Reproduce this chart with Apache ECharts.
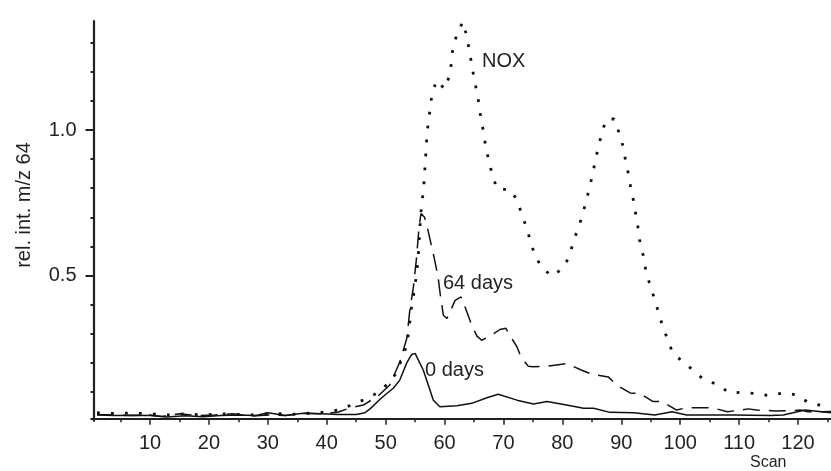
<!DOCTYPE html>
<html><head><meta charset="utf-8">
<script src="https://cdn.jsdelivr.net/npm/echarts@6/dist/echarts.min.js"></script>
<style>html,body{margin:0;padding:0;background:#fff}#c{width:831px;height:471px}</style>
</head><body><div id="c"></div>
<script>
// [scan, relative intensity]
const noxData = [[1,0.028],[4,0.025],[7,0.027],[10,0.024],[13,0.02],[16,0.024],[19,0.02],[22,0.024],[25,0.022],[28,0.02],[31,0.026],[34,0.022],[37,0.026],[40,0.03],[42,0.038],[44.2,0.054],[46.5,0.074],[48.6,0.096],[50.6,0.131],[51.9,0.166],[52.6,0.206],[53.6,0.26],[53.9,0.306],[54.4,0.392],[55,0.466],[55.5,0.552],[55.9,0.693],[56.1,0.742],[56.4,0.79],[56.6,0.84],[56.7,0.887],[56.9,0.937],[57.0,0.986],[57.3,1.034],[57.6,1.082],[57.9,1.13],[58.7,1.171],[60.0,1.141],[60.8,1.185],[61.2,1.234],[61.4,1.282],[62.1,1.329],[63.1,1.372],[63.8,1.321],[64.2,1.274],[64.6,1.227],[65.0,1.179],[65.5,1.13],[65.9,1.082],[66.2,1.034],[66.7,0.986],[67.0,0.937],[67.6,0.889],[68.1,0.843],[69.0,0.796],[71.1,0.796],[72.4,0.757],[73.1,0.709],[74.0,0.661],[74.6,0.615],[75.3,0.572],[76.5,0.526],[78.3,0.497],[80.2,0.527],[81.3,0.572],[81.9,0.621],[82.7,0.661],[83.4,0.709],[84.1,0.758],[84.6,0.804],[85.2,0.851],[85.6,0.899],[86.2,0.947],[86.7,0.992],[87.5,1.038],[88.8,1.038],[89.6,0.992],[90.3,0.944],[90.7,0.898],[91.2,0.85],[91.6,0.802],[92.1,0.755],[92.5,0.706],[92.9,0.657],[93.2,0.609],[93.8,0.563],[94.2,0.512],[94.9,0.466],[95.6,0.421],[96.3,0.375],[97.0,0.326],[98.7,0.235],[100.4,0.203],[102.2,0.174],[104.1,0.14],[106.4,0.125],[108.3,0.096],[110.5,0.098],[112.8,0.094],[115.1,0.086],[117.5,0.096],[119.8,0.089],[121.8,0.062],[124.2,0.052],[125.6,0.048]];
const days64Data = [[1,0.022],[4,0.02],[7,0.018],[10,0.02],[12,0.015],[15,0.024],[18,0.018],[21,0.02],[24,0.024],[27,0.016],[30,0.02],[33,0.018],[36,0.026],[39,0.024],[42,0.03],[44,0.045],[46.2,0.054],[48.7,0.085],[50.7,0.123],[52.4,0.202],[53.6,0.284],[54.1,0.38],[54.7,0.459],[55.2,0.552],[55.7,0.672],[56.0,0.713],[56.6,0.70],[57.2,0.654],[57.8,0.6],[58.4,0.545],[58.9,0.494],[59.3,0.43],[59.8,0.363],[60.4,0.352],[61.8,0.414],[62.8,0.426],[63.8,0.374],[64.6,0.329],[65.5,0.291],[66.3,0.277],[67.7,0.291],[69.4,0.314],[70.4,0.318],[71.6,0.277],[72.3,0.254],[73.0,0.219],[74.2,0.188],[75.0,0.186],[77.6,0.188],[79.0,0.192],[80.7,0.197],[83.3,0.174],[85.0,0.16],[87.8,0.151],[89.2,0.123],[91.5,0.096],[93.2,0.094],[95.4,0.066],[96.9,0.066],[99.4,0.037],[101.1,0.045],[104.2,0.045],[105.6,0.044],[108,0.031],[110.2,0.037],[111.5,0.041],[113,0.037],[116.1,0.034],[119.2,0.035],[120.4,0.037],[121.7,0.031],[125.6,0.032]];
const days0Data = [[1,0.02],[4,0.018],[7,0.019],[10,0.018],[12.8,0.013],[16,0.017],[19,0.014],[22,0.018],[25,0.02],[28,0.018],[30,0.028],[33,0.018],[36,0.026],[39,0.024],[42,0.022],[45,0.022],[46.5,0.028],[47.4,0.042],[49.1,0.075],[50.2,0.094],[51.3,0.112],[52.4,0.14],[53.6,0.2],[54.4,0.228],[55.0,0.232],[56.4,0.174],[58.1,0.071],[59.2,0.048],[62.1,0.052],[64.6,0.06],[67.2,0.079],[69.1,0.091],[72.3,0.071],[75.1,0.058],[77.4,0.066],[80.7,0.054],[83.6,0.043],[85.3,0.043],[88.1,0.029],[92.1,0.028],[95.7,0.02],[98.6,0.031],[101.1,0.02],[109,0.02],[115.3,0.018],[117.5,0.02],[121.2,0.037],[125.6,0.028]];
const xMajorTicks = [10,20,30,40,50,60,70,80,90,100,110,120];
const xMinorTicks = [5,15,25,35,45,55,65,75,85,95,105,115,125];
const yMajorTicks = [0.5,1.0];
const yMinorTicks = [0.1,0.2,0.3,0.4,0.6,0.7,0.8,0.9,1.1,1.2,1.3];
const seriesNames = ['NOX','64 days','0 days'];
const xTitle = 'Scan';
const yTitle = 'rel. int. m/z 64';

const INK = '#231f20';
const FONT = '"Liberation Sans", Arial, sans-serif';
const chart = echarts.init(document.getElementById('c'), null, {renderer:'canvas'});
const xBase = {type:'value', min:0, max:125.6, position:'bottom', offset:-2, splitLine:{show:false}};
const yBase = {type:'value', min:0, max:1.375, position:'left', offset:-2.4, splitLine:{show:false}};
chart.setOption({
  animation:false,
  backgroundColor:'#fff',
  grid:{left:91.1, right:0, top:21, bottom:50.2, outerBoundsMode:'none', containLabel:false},
  xAxis:[
    Object.assign({}, xBase, {
      axisLine:{show:true, onZero:false, lineStyle:{color:INK, width:2}},
      axisTick:{show:true, customValues:xMajorTicks, length:6, lineStyle:{color:INK, width:1.5}},
      axisLabel:{show:true, customValues:xMajorTicks, margin:15, fontSize:20, color:INK, fontFamily:FONT}
    }),
    Object.assign({}, xBase, {
      axisLine:{show:false, onZero:false},
      axisTick:{show:true, customValues:xMinorTicks, length:3.5, lineStyle:{color:INK, width:1.5}},
      axisLabel:{show:false}
    })
  ],
  yAxis:[
    Object.assign({}, yBase, {
      axisLine:{show:true, onZero:false, lineStyle:{color:INK, width:2.2}},
      axisTick:{show:true, customValues:yMajorTicks, length:8, lineStyle:{color:INK, width:2}},
      axisLabel:{show:true, customValues:yMajorTicks, margin:17, fontSize:20, color:INK, fontFamily:FONT,
        formatter:v => Number(v).toFixed(1)}
    }),
    Object.assign({}, yBase, {
      axisLine:{show:false, onZero:false},
      axisTick:{show:true, customValues:yMinorTicks, length:3, lineStyle:{color:INK, width:2}},
      axisLabel:{show:false}
    })
  ],
  series:[
    {name:seriesNames[2], type:'line', data:days0Data, symbol:'none', lineStyle:{color:'#111', width:1.5}},
    {name:seriesNames[1], type:'line', data:days64Data, symbol:'none', lineStyle:{color:'#111', width:1.5, type:[17,9]}},
    {name:seriesNames[0], type:'line', data:noxData, symbol:'none', lineStyle:{color:'#111', width:2.8, type:[2.8,11.2], cap:'butt'}}
  ],
  graphic:[
    {type:'text', x:482, y:61, style:{text:seriesNames[0], fontSize:20, fontFamily:FONT, fill:INK, textVerticalAlign:'middle', verticalAlign:'middle'}},
    {type:'text', x:443, y:283, style:{text:seriesNames[1], fontSize:20, fontFamily:FONT, fill:INK, textVerticalAlign:'middle', verticalAlign:'middle'}},
    {type:'text', x:425, y:370, style:{text:seriesNames[2], fontSize:20, fontFamily:FONT, fill:INK, textVerticalAlign:'middle', verticalAlign:'middle'}},
    {type:'text', x:750, y:463, style:{text:xTitle, fontSize:16, fontFamily:FONT, fill:INK, textVerticalAlign:'middle', verticalAlign:'middle'}},
    {type:'text', x:24, y:205, rotation:Math.PI/2, style:{text:yTitle, fontSize:20, fontFamily:FONT, fill:INK, textAlign:'center', align:'center', textVerticalAlign:'middle', verticalAlign:'middle'}}
  ]
});
</script></body></html>
